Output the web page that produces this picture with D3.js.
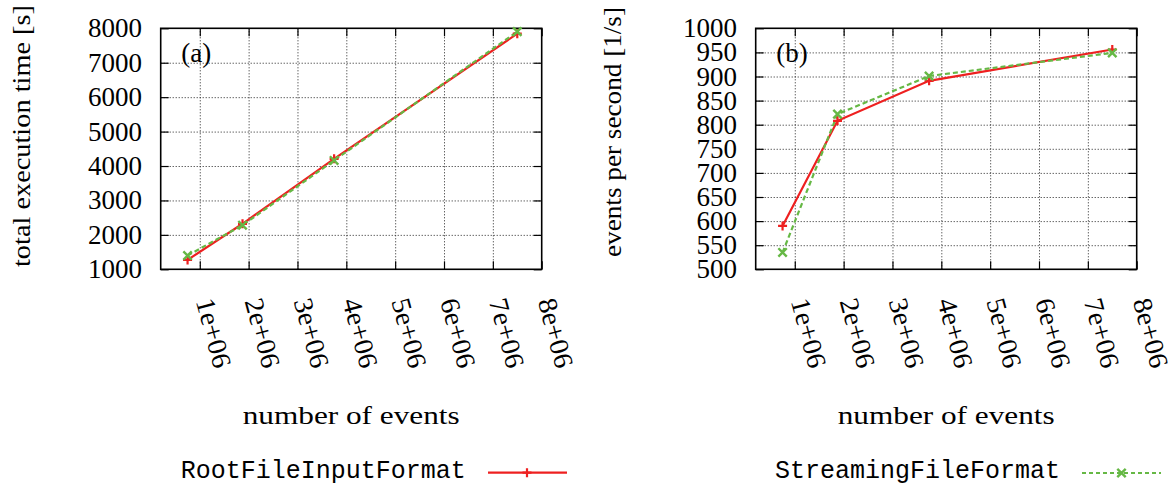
<!DOCTYPE html>
<html><head><meta charset="utf-8">
<script src="https://cdn.jsdelivr.net/npm/d3@7"></script>
<style>body{margin:0;background:#fff}svg{display:block}</style>
</head><body>
<script>
// ---- data ----
const events = [750000, 1875000, 3750000, 7500000];
const timeRoot = [1272, 2322, 4209, 7845];
const timeStreaming = [1400, 2281, 4162, 7903];
const rateRoot = [590, 808, 891, 956];
const rateStreaming = [535, 822, 901, 949];
const seriesNames = ["RootFileInputFormat", "StreamingFileFormat"];
const xTickValues = [1e6, 2e6, 3e6, 4e6, 5e6, 6e6, 7e6, 8e6];
const yTicksA = [1000, 2000, 3000, 4000, 5000, 6000, 7000, 8000];
const yTicksB = [500, 550, 600, 650, 700, 750, 800, 850, 900, 950, 1000];
const panelTags = ["(a)", "(b)"];
const yTitles = ["total execution time [s]", "events per second [1/s]"];
const xTitle = "number of events";

const W = 1168, H = 489;
const RED = "#ee2020", GREEN = "#66b845";
const serif = "'Liberation Serif', 'DejaVu Serif', serif";
const mono = "'Liberation Mono', 'DejaVu Sans Mono', monospace";

const svg = d3.select("body").append("svg").attr("width", W).attr("height", H);

const plotTop = 28.3, plotBottom = 269.3;
const xFmt = d => (d / 1e6) + "e+06";

function drawPlus(g, cx, cy) {
  const r = 4.5;
  g.append("path").attr("d", `M${cx - r},${cy}H${cx + r}M${cx},${cy - r}V${cy + r}`)
    .attr("stroke", RED).attr("stroke-width", 2.2).attr("fill", "none");
}
function drawX(g, cx, cy) {
  const r = 4.2;
  g.append("path").attr("d", `M${cx - r},${cy - r}L${cx + r},${cy + r}M${cx - r},${cy + r}L${cx + r},${cy - r}`)
    .attr("stroke", GREEN).attr("stroke-width", 2.4).attr("fill", "none");
}

function panel(cfg) {
  const x = d3.scaleLinear([0.2e6, 8e6], [cfg.left, cfg.right]);
  const y = d3.scaleLinear(cfg.ydom, [plotBottom, plotTop]);
  const g = svg.append("g");
  const ph = plotBottom - plotTop, pw = cfg.right - cfg.left;

  // grid
  const gx = g.append("g").attr("transform", `translate(0,${plotBottom})`)
    .call(d3.axisBottom(x).tickValues(xTickValues.filter(v => v < 8e6)).tickSize(-ph).tickFormat(""));
  const gy = g.append("g").attr("transform", `translate(${cfg.left},0)`)
    .call(d3.axisLeft(y).tickValues(cfg.yticks.filter((v, i) => i > 0 && i < cfg.yticks.length - 1)).tickSize(-pw).tickFormat(""));
  [gx, gy].forEach(a => {
    a.select(".domain").remove();
    a.selectAll("line").attr("stroke", "#222").attr("stroke-width", 1).attr("stroke-dasharray", "1,2");
  });

  // inward ticks on all four sides
  const tk = [
    [d3.axisBottom(x).tickValues(xTickValues), `translate(0,${plotBottom})`],
    [d3.axisTop(x).tickValues(xTickValues), `translate(0,${plotTop})`],
    [d3.axisLeft(y).tickValues(cfg.yticks), `translate(${cfg.left},0)`],
    [d3.axisRight(y).tickValues(cfg.yticks), `translate(${cfg.right},0)`]
  ];
  tk.forEach(([ax, tr]) => {
    const a = g.append("g").attr("transform", tr).call(ax.tickSize(-8).tickFormat(""));
    a.select(".domain").remove();
    a.selectAll("line").attr("stroke", "#000").attr("stroke-width", 1.2);
  });

  // border
  g.append("rect").attr("x", cfg.left).attr("y", plotTop).attr("width", pw).attr("height", ph)
    .attr("fill", "none").attr("stroke", "#000").attr("stroke-width", 1.6);

  // y tick labels
  g.selectAll(".yl").data(cfg.yticks).join("text")
    .attr("x", cfg.ylabelX).attr("y", d => y(d) + 9)
    .attr("text-anchor", "end").attr("font-family", serif).attr("font-size", 27)
    .text(d => d);

  // x tick labels (rotated)
  g.selectAll(".xl").data(xTickValues).join("text")
    .attr("transform", d => `translate(${x(d) - 4},301) rotate(75)`)
    .attr("text-anchor", "start").attr("font-family", serif).attr("font-size", 27)
    .attr("textLength", 71).attr("lengthAdjust", "spacingAndGlyphs")
    .text(xFmt);

  // titles
  g.append("text").attr("x", (cfg.left + cfg.right) / 2).attr("y", 424)
    .attr("text-anchor", "middle").attr("font-family", serif).attr("font-size", 26)
    .attr("textLength", 217).attr("lengthAdjust", "spacingAndGlyphs").text(xTitle);
  g.append("text").attr("transform", `translate(${cfg.ytitleX},${cfg.ytitleY}) rotate(-90)`)
    .attr("text-anchor", "middle").attr("font-family", serif).attr("font-size", 26)
    .attr("textLength", cfg.ytitleLen).attr("lengthAdjust", "spacingAndGlyphs").text(cfg.ytitle);
  g.append("text").attr("x", cfg.left + 20.5).attr("y", 62)
    .attr("font-family", serif).attr("font-size", 27).text(cfg.tag);

  // series
  const line = d3.line().x(d => x(d[0])).y(d => y(d[1]));
  const sA = events.map((e, i) => [e, cfg.red[i]]);
  const sB = events.map((e, i) => [e, cfg.green[i]]);
  g.append("path").attr("d", line(sA)).attr("fill", "none").attr("stroke", RED).attr("stroke-width", 2.2);
  g.append("path").attr("d", line(sB)).attr("fill", "none").attr("stroke", GREEN).attr("stroke-width", 2.2)
    .attr("stroke-dasharray", "5,3");
  sA.forEach(d => drawPlus(g, x(d[0]), y(d[1])));
  sB.forEach(d => drawX(g, x(d[0]), y(d[1])));
}

panel({left: 160.7, right: 541.7, ydom: [1000, 8000], yticks: yTicksA, ylabelX: 142,
  ytitleX: 30, ytitleY: 136, ytitleLen: 262, ytitle: yTitles[0], tag: panelTags[0], red: timeRoot, green: timeStreaming});
panel({left: 755.7, right: 1136.7, ydom: [500, 1000], yticks: yTicksB, ylabelX: 737,
  ytitleX: 621, ytitleY: 132, ytitleLen: 250, ytitle: yTitles[1], tag: panelTags[1], red: rateRoot, green: rateStreaming});

// legend
const lg = svg.append("g");
lg.append("text").attr("x", 180.7).attr("y", 478).attr("font-family", mono).attr("font-size", 25).text(seriesNames[0]);
lg.append("line").attr("x1", 488).attr("x2", 567).attr("y1", 472.7).attr("y2", 472.7).attr("stroke", RED).attr("stroke-width", 2.2);
drawPlus(lg, 527, 472.7);
lg.append("text").attr("x", 775).attr("y", 478).attr("font-family", mono).attr("font-size", 25).text(seriesNames[1]);
lg.append("line").attr("x1", 1082).attr("x2", 1161).attr("y1", 473).attr("y2", 473).attr("stroke", GREEN).attr("stroke-width", 2.2).attr("stroke-dasharray", "4,3");
drawX(lg, 1121.5, 473);
</script>
</body></html>
